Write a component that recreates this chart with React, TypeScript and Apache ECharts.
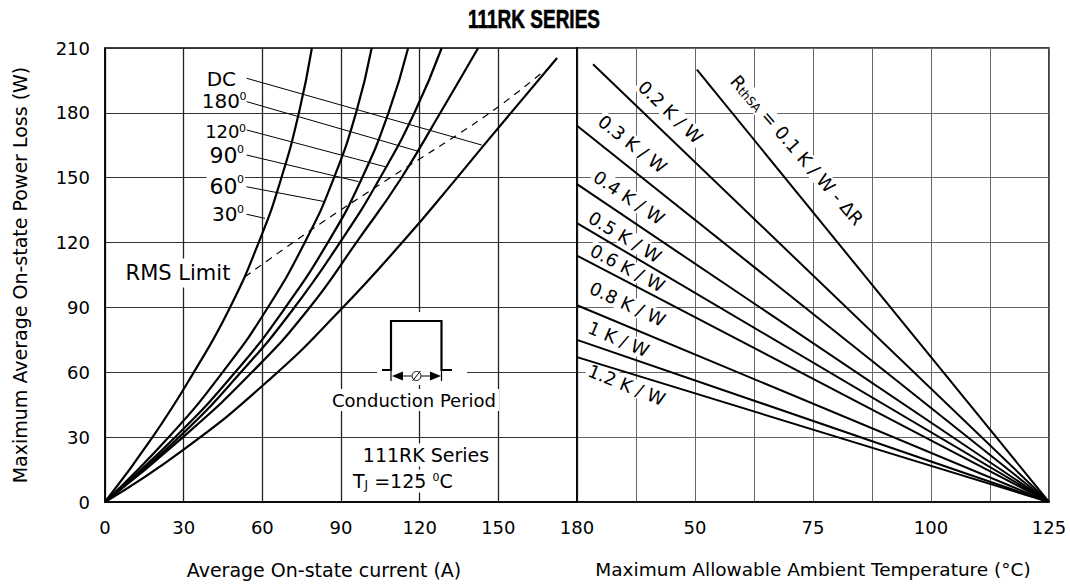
import React, { useEffect, useRef } from 'react';
import * as echarts from 'echarts';

const FONT = 'DejaVu Sans, Verdana, sans-serif';

// ---------- Left panel: Average on-state current (A) vs. power loss (W)
const currentMin = 0;
const currentMax = 180;
const currentStep = 30;
const powerMin = 0;
const powerMax = 210;
const powerStep = 30;

const curve30: [number, number][] = [[0, 0], [18.4, 30.5], [33.9, 60.1], [47.2, 88.8], [59.1, 121.5], [67.1, 149.3], [74.0, 180.3], [78.9, 210]];
const curve60: [number, number][] = [[0, 0], [24.7, 30.5], [44.9, 60.1], [61.5, 88.8], [76.8, 121.5], [87.1, 149.3], [95.8, 180.3], [101.7, 210]];
const curve90: [number, number][] = [[0, 0], [27.2, 30.5], [49.7, 60.1], [68.1, 88.8], [85.7, 121.5], [97.8, 149.3], [108.2, 180.3], [115.6, 210]];
const curve120: [number, number][] = [[0, 0], [28.7, 30.5], [51.9, 60.1], [71.5, 88.8], [90.4, 121.5], [104.6, 149.3], [118.1, 180.3], [128.4, 210]];
const curve180: [number, number][] = [[0, 0], [30.2, 30.5], [56.1, 60.1], [77.3, 88.8], [96.7, 121.5], [112.7, 149.3], [128.0, 180.3], [142.3, 210]];
const curveDC: [number, number][] = [[0, 0], [29.7, 24], [62.5, 56.4], [89.4, 88.3], [114.4, 121.5], [133.5, 148.9], [146.1, 167.4], [172.4, 205.4]];
const rmsLimit: [number, number][] = [[53.4, 104.2], [81.3, 128.1], [107.4, 148.9], [145.6, 179], [167.1, 199]];

const curveNames = ['30°', '60°', '90°', '120°', '180°', 'DC'];
const curveData = [curve30, curve60, curve90, curve120, curve180, curveDC];

// leader lines from the labels to the curves (DC, 180, 120, 90, 60, 30)
const leaderFrom: [number, number][] = [[54, 196], [54, 185.2], [54, 172.1], [54, 160.5], [54, 145.8], [54, 133.1]];
const leaderTo: [number, number][] = [[143.7, 165.1], [120.1, 162], [106.8, 155.1], [96.6, 148.2], [83.9, 138.9], [61, 131.2]];

// ---------- Right panel: ambient temperature (°C) vs. power loss (W)
const tempMin = 25;
const tempMax = 125;
const tempStep = 12.5;
const tempLabelStep = 25;
const rthNames = ['0.1 K/W - ΔR', '0.2 K/W', '0.3 K/W', '0.4 K/W', '0.5 K/W', '0.6 K/W', '0.8 K/W', '1 K/W', '1.2 K/W'];
const rthStart: [number, number][] = [[50.4, 200], [28.4, 202.5], [25, 174], [25, 147], [25, 129], [25, 114], [25, 91], [25, 75], [25, 67]];
const rthEnd: [number, number] = [125, 0];

// ---------- Texts
const title = '111RK SERIES';
const leftXName = 'Average On-state current (A)';
const rightXName = 'Maximum Allowable Ambient Temperature (°C)';
const yName = 'Maximum Average On-state Power Loss (W)';

const angleLabels = [
  { main: 'DC', sup: '', x: 236, y: 79, fs: 20, supY: 0 },
  { main: '180', sup: '0', x: 240, y: 101, fs: 20, supY: 91 },
  { main: '120', sup: '0', x: 239.5, y: 131.5, fs: 18, supY: 122.5 },
  { main: '90', sup: '0', x: 237.5, y: 155, fs: 22, supY: 143.5 },
  { main: '60', sup: '0', x: 237.5, y: 186, fs: 22, supY: 174 },
  { main: '30', sup: '0', x: 237.5, y: 214, fs: 20, supY: 203.5 },
];

const rthLabelText = ['', '0.2 K / W', '0.3 K / W', '0.4 K / W', '0.5 K / W', '0.6 K / W', '0.8 K / W', '1 K / W', '1.2 K / W'];
const rthLabelPos = [
  { x: 797, y: 150, a: 49 },
  { x: 670.5, y: 112, a: 44 },
  { x: 632.5, y: 144, a: 38 },
  { x: 629, y: 197.5, a: 34 },
  { x: 625, y: 237, a: 31 },
  { x: 627.5, y: 268, a: 28 },
  { x: 627.5, y: 304, a: 25 },
  { x: 618.7, y: 339, a: 23 },
  { x: 626.7, y: 385, a: 22 },
];

function buildOption() {
  const black = '#000';
  const series: any[] = [];
  curveData.forEach((d, i) => {
    series.push({
      name: curveNames[i], type: 'line', xAxisIndex: 0, yAxisIndex: 0, data: d,
      smooth: 0.5, symbol: 'none', silent: true, z: 3,
      lineStyle: { color: black, width: 2.2 },
    });
  });
  series.push({
    name: 'RMS Limit', type: 'line', xAxisIndex: 0, yAxisIndex: 0, data: rmsLimit,
    smooth: 0.4, symbol: 'none', silent: true, z: 3,
    lineStyle: { color: black, width: 1.2, type: [7, 6] },
  });
  leaderFrom.forEach((p, i) => {
    series.push({
      type: 'line', xAxisIndex: 0, yAxisIndex: 0, data: [p, leaderTo[i]],
      symbol: 'none', silent: true, z: 3, lineStyle: { color: black, width: 1 },
    });
  });
  rthStart.forEach((p, i) => {
    series.push({
      name: rthNames[i], type: 'line', xAxisIndex: 1, yAxisIndex: 1, data: [p, rthEnd],
      symbol: 'none', silent: true, z: 3, lineStyle: { color: black, width: 2 },
    });
  });

  const graphic: any[] = [];
  graphic.push({
    type: 'text', x: 534, y: 20, scaleX: 0.76, z: 5,
    style: { text: title, fill: black, stroke: black, lineWidth: 0.6, font: 'bold 25px "Liberation Sans", Arial, sans-serif', align: 'center', verticalAlign: 'middle' },
  });
  angleLabels.forEach((l) => {
    graphic.push({
      type: 'text', x: l.x, y: l.y, z: 1,
      style: { text: l.main, fill: black, fontFamily: FONT, fontSize: l.fs, align: 'right', verticalAlign: 'middle', backgroundColor: '#fff', padding: [0, 0, 0, 3] },
    });
    if (l.sup) {
      graphic.push({
        type: 'text', x: l.x - 0.5, y: l.supY, z: 1,
        style: { text: l.sup, fill: black, fontFamily: FONT, fontSize: 11, align: 'left', verticalAlign: 'top', backgroundColor: '#fff', padding: [0, 1, 0, 0] },
      });
    }
  });
  graphic.push({
    type: 'text', x: 178, y: 273, z: 1,
    style: { text: 'RMS Limit', fill: black, fontFamily: FONT, fontSize: 21, align: 'center', verticalAlign: 'middle', backgroundColor: '#fff', padding: [4, 4] },
  });
  // conduction period diagram
  graphic.push({ type: 'rect', z: 1, shape: { x: 377, y: 312, width: 90, height: 73 }, style: { fill: '#fff' } });
  graphic.push({
    type: 'polyline', z: 2,
    shape: { points: [[382, 370], [391, 370], [391, 321], [441.5, 321], [441.5, 370], [452, 370]] },
    style: { stroke: black, lineWidth: 2.2, fill: 'none' },
  });
  graphic.push({ type: 'line', z: 2, shape: { x1: 391, y1: 370, x2: 391, y2: 381 }, style: { stroke: black, lineWidth: 1.2 } });
  graphic.push({ type: 'line', z: 2, shape: { x1: 441.5, y1: 370, x2: 441.5, y2: 381 }, style: { stroke: black, lineWidth: 1.2 } });
  graphic.push({ type: 'polygon', z: 2, shape: { points: [[392, 376], [403, 371.5], [403, 380.5]] }, style: { fill: black } });
  graphic.push({ type: 'polygon', z: 2, shape: { points: [[441, 376], [430, 371.5], [430, 380.5]] }, style: { fill: black } });
  graphic.push({ type: 'line', z: 2, shape: { x1: 403, y1: 376, x2: 411.5, y2: 376 }, style: { stroke: black, lineWidth: 1 } });
  graphic.push({ type: 'line', z: 2, shape: { x1: 421.5, y1: 376, x2: 430, y2: 376 }, style: { stroke: black, lineWidth: 1 } });
  graphic.push({ type: 'circle', z: 2, shape: { cx: 416.5, cy: 376, r: 4.5 }, style: { stroke: black, fill: 'none', lineWidth: 1 } });
  graphic.push({ type: 'line', z: 2, shape: { x1: 412.5, y1: 381, x2: 420.5, y2: 371 }, style: { stroke: black, lineWidth: 1 } });
  graphic.push({
    type: 'text', x: 414, y: 400, z: 1,
    style: { text: 'Conduction Period', fill: black, fontFamily: FONT, fontSize: 18, align: 'center', verticalAlign: 'middle', backgroundColor: '#fff', padding: [2, 3] },
  });
  graphic.push({
    type: 'text', x: 426, y: 455, z: 1,
    style: { text: '111RK Series', fill: black, fontFamily: FONT, fontSize: 19, align: 'center', verticalAlign: 'middle', backgroundColor: '#fff', padding: [2, 3] },
  });
  graphic.push({
    type: 'text', x: 350, y: 481, z: 1,
    style: {
      text: '{t|T}{j|J}{t| =125 }{o|0}{t|C}', fill: black, fontFamily: FONT, fontSize: 19, align: 'left', verticalAlign: 'middle',
      backgroundColor: '#fff', padding: [2, 3],
      rich: {
        t: { fontSize: 19, fontFamily: FONT, fill: black },
        j: { fontSize: 12, fontFamily: FONT, fill: black, verticalAlign: 'bottom' },
        o: { fontSize: 11, fontFamily: FONT, fill: black, verticalAlign: 'top' },
      },
    },
  });
  // right panel labels
  rthLabelPos.forEach((p, i) => {
    const style: any = {
      fill: black, fontFamily: FONT, fontSize: 18, align: 'center', verticalAlign: 'middle', backgroundColor: '#fff', padding: [0, 2],
    };
    if (i === 0) {
      style.text = '{r|R}{s|thSA}{r| = 0.1 K / W - ΔR}';
      style.rich = {
        r: { fontSize: 18, fontFamily: FONT, fill: black },
        s: { fontSize: 12, fontFamily: FONT, fill: black, verticalAlign: 'bottom' },
      };
    } else {
      style.text = rthLabelText[i];
    }
    graphic.push({ type: 'text', x: p.x, y: p.y, rotation: (-p.a * Math.PI) / 180, z: 1, style });
  });

  const axisLine = { show: true, lineStyle: { color: black, width: 1.5 } };
  const labelStyle = { color: black, fontSize: 18, fontFamily: FONT };
  const nameStyle = { color: black, fontSize: 19, fontFamily: FONT };

  return {
    animation: false,
    backgroundColor: '#fff',
    textStyle: { fontFamily: FONT },
    grid: [
      { left: 105, top: 48, width: 472, height: 454, show: true, borderColor: black, borderWidth: 1.5, backgroundColor: 'transparent' },
      { left: 577, top: 48, width: 472, height: 454, show: true, borderColor: black, borderWidth: 1.5, backgroundColor: 'transparent' },
    ],
    xAxis: [
      {
        type: 'value', gridIndex: 0, min: currentMin, max: currentMax, interval: currentStep,
        name: leftXName, nameLocation: 'middle', nameGap: 58,
        nameTextStyle: { ...nameStyle, padding: [0, 34, 0, 0] },
        axisLine, axisTick: { show: false },
        axisLabel: { ...labelStyle, margin: 16 },
        splitLine: { show: true, lineStyle: { color: '#222', width: 1.3 } },
      },
      {
        type: 'value', gridIndex: 1, min: tempMin, max: tempMax, interval: tempStep,
        name: rightXName, nameLocation: 'middle', nameGap: 58,
        nameTextStyle: { ...nameStyle, fontSize: 18.5 },
        axisLine, axisTick: { show: false },
        axisLabel: {
          ...labelStyle, margin: 16,
          formatter: (v: number) => (v !== tempMin && v % tempLabelStep === 0 ? String(v) : ''),
        },
        splitLine: { show: true, lineStyle: { color: '#666', width: 1 } },
      },
    ],
    yAxis: [
      {
        type: 'value', gridIndex: 0, min: powerMin, max: powerMax, interval: powerStep,
        name: yName, nameLocation: 'middle', nameGap: 76, nameTextStyle: nameStyle,
        axisLine, axisTick: { show: false },
        axisLabel: { ...labelStyle, margin: 15 },
        splitLine: { show: true, lineStyle: { color: '#333', width: 1.2 } },
      },
      {
        type: 'value', gridIndex: 1, min: powerMin, max: powerMax, interval: powerStep,
        axisLine, axisTick: { show: false }, axisLabel: { show: false },
        splitLine: { show: true, lineStyle: { color: '#666', width: 1 } },
      },
    ],
    series,
    graphic,
  };
}

export default function App() {
  const ref = useRef<HTMLDivElement>(null);
  useEffect(() => {
    if (!ref.current) return;
    const chart = echarts.init(ref.current, null, { renderer: 'svg' });
    chart.setOption(buildOption() as any);
    return () => chart.dispose();
  }, []);
  return (
    <div
      ref={ref}
      style={{ position: 'absolute', left: 0, top: 0, width: 1070, height: 586, background: '#fff' }}
    />
  );
}
